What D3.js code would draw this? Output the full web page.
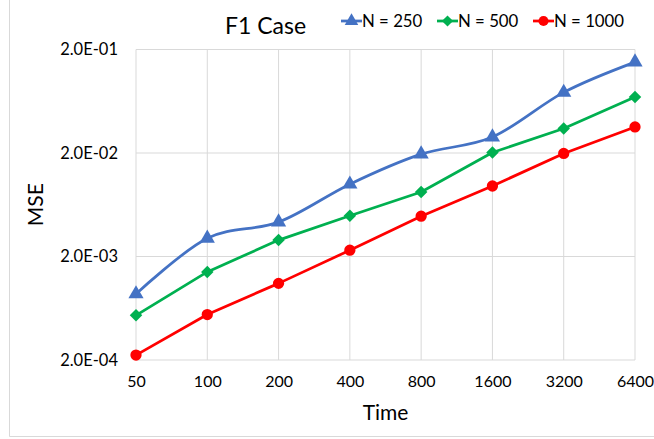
<!DOCTYPE html>
<html>
<head>
<meta charset="utf-8">
<script src="https://cdn.jsdelivr.net/npm/d3@7"></script>
<style>
  body { margin: 0; background: #fff; }
  svg { display: block; font-family: Lato, "Open Sans", sans-serif; }
</style>
</head>
<body>
<svg id="chart"></svg>
<script>
// x categories (Time) and y tick values
const times = ['50', '100', '200', '400', '800', '1600', '3200', '6400'];
const yTicks = [2e-4, 2e-3, 2e-2, 2e-1];

// MSE values
const n250 = [8.7e-4, 3.0e-3, 4.3e-3, 1.0e-2, 1.95e-2, 2.85e-2, 7.7e-2, 0.151];
const n500 = [5.4e-4, 1.42e-3, 2.88e-3, 4.95e-3, 8.4e-3, 2.02e-2, 3.45e-2, 6.95e-2];
const n1000 = [2.23e-4, 5.5e-4, 1.1e-3, 2.3e-3, 4.9e-3, 9.6e-3, 1.98e-2, 3.57e-2];

const seriesNames = ['N = 250', 'N = 500', 'N = 1000'];

const W = 654, H = 439;
const margin = { top: 49.5, right: 19, bottom: 79, left: 136 };
const width = W - margin.left - margin.right;
const height = H - margin.top - margin.bottom;

const svg = d3.select('#chart').attr('width', W).attr('height', H);

// chart area border (only left and bottom visible in the crop)
svg.append('path')
  .attr('d', `M9.5,0 V436.5 H${W}`)
  .attr('fill', 'none')
  .attr('stroke', '#d9d9d9')
  .attr('stroke-width', 1);

const g = svg.append('g').attr('transform', `translate(${margin.left},${margin.top})`);

const x = d3.scalePoint().domain(times).range([0, width]);
const y = d3.scaleLog().domain([2e-4, 2e-1]).range([height, 0]);

// gridlines
g.append('g')
  .selectAll('line.h')
  .data(yTicks)
  .enter().append('line')
  .attr('x1', 0).attr('x2', width)
  .attr('y1', d => y(d)).attr('y2', d => y(d))
  .attr('stroke', '#d9d9d9').attr('stroke-width', 1);

g.append('g')
  .selectAll('line.v')
  .data(times)
  .enter().append('line')
  .attr('x1', d => x(d)).attr('x2', d => x(d))
  .attr('y1', 0).attr('y2', height)
  .attr('stroke', '#d9d9d9').attr('stroke-width', 1);

// axes (labels only)
const yAxis = g.append('g')
  .call(d3.axisLeft(y).tickValues(yTicks).tickSize(0).tickPadding(18)
    .tickFormat(d => d.toExponential(1).replace('e', 'E').replace(/E([+-])(\d)$/, 'E$10$2')));
yAxis.select('.domain').remove();
yAxis.selectAll('text').attr('font-size', 16.5).attr('fill', '#000').attr('font-family', 'Lato');

const xAxis = g.append('g')
  .attr('transform', `translate(0,${height})`)
  .call(d3.axisBottom(x).tickSize(0).tickPadding(16));
xAxis.select('.domain').remove();
xAxis.selectAll('text').attr('font-size', 16).attr('fill', '#000').attr('font-family', 'Lato');

// axis titles
svg.append('text')
  .attr('x', margin.left + width / 2).attr('y', 420)
  .attr('text-anchor', 'middle').attr('font-size', 21).attr('fill', '#000')
  .text('Time');

svg.append('text')
  .attr('transform', `translate(43,${margin.top + height / 2}) rotate(-90)`)
  .attr('text-anchor', 'middle').attr('font-size', 21).attr('fill', '#000')
  .text('MSE');

// title
svg.append('text')
  .attr('x', 265.5).attr('y', 33.5)
  .attr('text-anchor', 'middle').attr('font-size', 23).attr('fill', '#000')
  .text('F1 Case');

const series = [
  { name: seriesNames[0], values: n250, color: '#4472c4', symbol: d3.symbolTriangle, size: 100, rot: 0, curve: d3.curveCatmullRom.alpha(0) },
  { name: seriesNames[1], values: n500, color: '#00b050', symbol: d3.symbolSquare, size: 78, rot: 45, curve: d3.curveLinear },
  { name: seriesNames[2], values: n1000, color: '#ff0000', symbol: d3.symbolCircle, size: 100, rot: 0, curve: d3.curveLinear }
];

series.forEach(s => {
  const line = d3.line()
    .x((d, i) => x(times[i]))
    .y(d => y(d))
    .curve(s.curve);

  g.append('path')
    .datum(s.values)
    .attr('d', line)
    .attr('fill', 'none')
    .attr('stroke', s.color)
    .attr('stroke-width', 2.75)
    .attr('stroke-linejoin', 'round');

  g.selectAll(null)
    .data(s.values)
    .enter().append('path')
    .attr('transform', (d, i) => `translate(${x(times[i])},${y(d)}) rotate(${s.rot})`)
    .attr('d', d3.symbol().type(s.symbol).size(s.size))
    .attr('fill', s.color);
});

// legend
const legendX = [341, 437, 533];
series.forEach((s, i) => {
  const lg = svg.append('g').attr('transform', `translate(${legendX[i]},21)`);
  lg.append('line')
    .attr('x1', 0).attr('x2', 21).attr('y1', 0).attr('y2', 0)
    .attr('stroke', s.color).attr('stroke-width', 2.75);
  lg.append('path')
    .attr('transform', `translate(10.5,0) rotate(${s.rot})`)
    .attr('d', d3.symbol().type(s.symbol).size(s.size * 0.8))
    .attr('fill', s.color);
  lg.append('text')
    .attr('x', 21).attr('y', 6)
    .attr('font-size', 16.8).attr('fill', '#000')
    .text(s.name);
});
</script>
</body>
</html>
